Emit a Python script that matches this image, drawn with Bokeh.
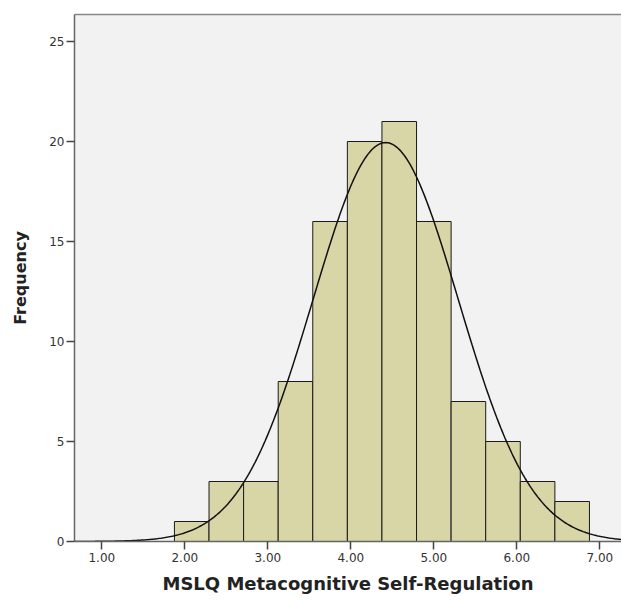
import numpy as np
from bokeh.plotting import figure
from bokeh.models import Range1d, FixedTicker, PrintfTickFormatter, LinearAxis
from bokeh.embed import file_html
from bokeh.resources import INLINE

# ---- data ----
counts = [1, 3, 3, 8, 16, 20, 21, 16, 7, 5, 3, 2]
bin_start = 1.875
bin_width = 5.0 / 12.0
x_ticks = [1, 2, 3, 4, 5, 6, 7]
y_ticks = [0, 5, 10, 15, 20, 25]
mean_val = 4.42
sd_val = 0.875
n_total = sum(counts)
x_label = "MSLQ Metacognitive Self-Regulation"
y_label = "Frequency"

edges = [bin_start + bin_width * i for i in range(len(counts) + 1)]
lefts = edges[:-1]
rights = edges[1:]

x_lo, x_hi = 0.671, 7.261
y_lo, y_hi = 0.0, 26.35

p = figure(width=621, height=604, output_backend="svg", toolbar_location=None,
           x_range=Range1d(x_lo, x_hi), y_range=Range1d(y_lo, y_hi),
           min_border_left=74, min_border_right=0, min_border_top=14, min_border_bottom=63)

p.background_fill_color = "#f2f2f2"
p.border_fill_color = "white"
p.outline_line_color = None
p.xgrid.visible = False
p.ygrid.visible = False

xax = p.below[0]
yax = p.left[0]

p.quad(left=lefts, right=rights, bottom=0, top=counts,
       fill_color="#d8d5a7", line_color="#1a1a1a", line_width=1)

xs = np.linspace(x_lo, x_hi, 400)
ys = n_total * bin_width * np.exp(-0.5 * ((xs - mean_val) / sd_val) ** 2) / (sd_val * np.sqrt(2 * np.pi))
p.line(xs, ys, line_color="#111111", line_width=1.5)

for ax in (xax, yax):
    ax.axis_line_color = "#666666"
    ax.axis_line_width = 1.5
    ax.major_tick_line_color = "#444444"
    ax.major_tick_line_width = 1.5
    ax.major_tick_in = 0
    ax.major_tick_out = 8
    ax.minor_tick_line_color = None
    ax.major_label_text_font = "DejaVu Sans"
    ax.major_label_text_font_size = "12px"
    ax.major_label_text_color = "#333333"
    ax.axis_label_text_font = "DejaVu Sans"
    ax.axis_label_text_font_style = "bold"
    ax.axis_label_text_color = "#222222"

xax.ticker = FixedTicker(ticks=x_ticks)
xax.formatter = PrintfTickFormatter(format="%.2f")
xax.axis_label = x_label
xax.axis_label_text_font_size = "18px"
xax.major_label_standoff = 3
xax.axis_label_standoff = 8

yax.ticker = FixedTicker(ticks=y_ticks)
yax.axis_label = y_label
yax.axis_label_text_font_size = "16px"
yax.major_label_standoff = 2
yax.axis_label_standoff = 16

# top frame line only (right side of the frame is cut off in the reference)
top_axis = LinearAxis(ticker=FixedTicker(ticks=[]), axis_line_color="#888888",
                      axis_line_width=1.5, major_tick_line_color=None,
                      minor_tick_line_color=None, major_label_standoff=0,
                      major_tick_out=0, major_tick_in=0)
p.add_layout(top_axis, "above")

open("out.html", "w").write(file_html(p, INLINE))
